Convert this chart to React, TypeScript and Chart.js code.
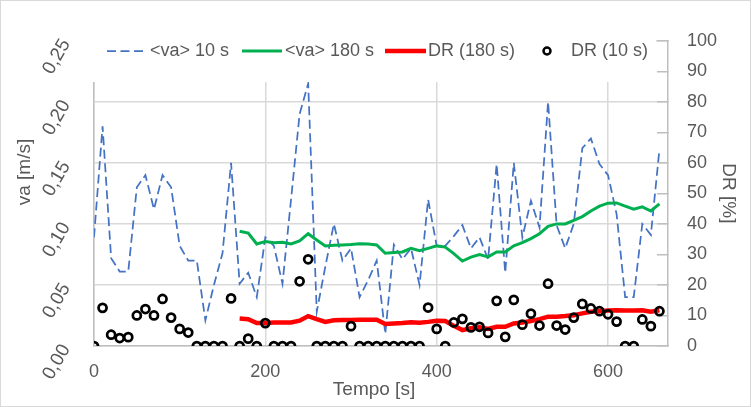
import React, { useEffect, useRef } from "react";
import { Chart, registerables } from "chart.js";

Chart.register(...registerables);

const timeS = [
  0, 10, 20, 30, 40, 50, 60, 70, 80, 90, 100, 110, 120, 130, 140, 150, 160, 170, 180, 190,
  200, 210, 220, 230, 240, 250, 260, 270, 280, 290, 300, 310, 320, 330, 340, 350, 360, 370, 380, 390,
  400, 410, 420, 430, 440, 450, 460, 470, 480, 490, 500, 510, 520, 530, 540, 550, 560, 570, 580, 590,
  600, 610, 620, 630, 640, 650, 660,
];

const va10s = [
  0.089, 0.180, 0.072, 0.061, 0.061, 0.130, 0.140, 0.112, 0.140, 0.130,
  0.082, 0.070, 0.070, 0.021, 0.050, 0.076, 0.150, 0.051, 0.060, 0.040,
  0.089, 0.082, 0.051, 0.120, 0.190, 0.215, 0.028, 0.065, 0.100, 0.070,
  0.080, 0.040, 0.054, 0.070, 0.010, 0.083, 0.071, 0.080, 0.050, 0.120,
  0.082, 0.082, 0.090, 0.099, 0.080, 0.089, 0.071, 0.149, 0.060, 0.150,
  0.089, 0.119, 0.097, 0.200, 0.099, 0.080, 0.100, 0.162, 0.170, 0.149,
  0.140, 0.108, 0.040, 0.040, 0.100, 0.091, 0.161,
];

const va180s = [
  null, null, null, null, null, null, null, null, null, null,
  null, null, null, null, null, null, null, 0.094, 0.0925, 0.0836,
  0.0855, 0.0846, 0.085, 0.0836, 0.086, 0.092, 0.0868, 0.082, 0.0825, 0.0828,
  0.0832, 0.0838, 0.0836, 0.0828, 0.076, 0.0765, 0.077, 0.080, 0.078, 0.080,
  0.082, 0.081, 0.0757, 0.0696, 0.0728, 0.0749, 0.073, 0.077, 0.077, 0.082,
  0.0846, 0.088, 0.092, 0.098, 0.100, 0.100, 0.103, 0.106, 0.1106, 0.1146,
  0.117, 0.1172, 0.1146, 0.112, 0.114, 0.1106, 0.1164,
];

const dr180s = [
  null, null, null, null, null, null, null, null, null, null,
  null, null, null, null, null, null, null, 9.0, 8.8, 7.5,
  7.5, 7.7, 7.7, 7.7, 8.3, 9.8, 8.8, 7.9, 8.4, 8.5,
  8.5, 8.6, 8.6, 8.6, 7.2, 7.4, 7.5, 7.8, 7.6, 7.9,
  8.3, 8.2, 6.6, 5.2, 5.8, 6.1, 5.6, 6.3, 6.3, 7.4,
  7.7, 8.2, 8.8, 9.6, 9.6, 9.8, 10.1, 10.7, 11.2, 11.4,
  11.6, 11.7, 11.6, 11.6, 11.7, 11.2, 11.7,
];

const dr10s = [
  0, 12.5, 3.7, 2.6, 2.9, 10.0, 12.1, 10.0, 15.4, 9.3,
  5.6, 4.4, 0, 0, 0, 0, 15.6, 0, 2.4, 0,
  7.5, 0, 0, 0, 21.2, 28.4, 0, 0, 0, 0,
  6.5, 0, 0, 0, 0, 0, 0, 0, 0, 12.6,
  5.6, 0, 7.7, 8.9, 6.1, 6.3, 4.3, 14.8, 3.0, 15.1,
  7.0, 10.6, 6.7, 20.4, 6.7, 5.4, 9.3, 13.8, 12.3, 11.4,
  10.4, 8.0, 0, 0, 8.7, 6.5, 11.4,
];

const xTickValues = [0, 200, 400, 600];
const seriesLabels = ["<va> 10 s", "<va> 180 s", "DR (180 s)", "DR (10 s)"];
const axisTitles = { x: "Tempo [s]", y: "va [m/s]", y1: "DR [%]" };

const FONT = "'Liberation Sans', Arial, sans-serif";
const TEXT = "#595959";
const DASH = [9, 4.5];

function toPoints(values: (number | null)[]) {
  const pts: { x: number; y: number }[] = [];
  values.forEach((v, i) => {
    if (v !== null && v !== undefined) pts.push({ x: timeS[i], y: v });
  });
  return pts;
}

const framePlugin = {
  id: "frame",
  beforeDraw(chart: any) {
    const { ctx, width, height } = chart;
    ctx.save();
    ctx.fillStyle = "#ffffff";
    ctx.fillRect(0, 0, width, height);
    ctx.strokeStyle = "#d9d9d9";
    ctx.lineWidth = 1;
    ctx.strokeRect(0.5, 0.5, width - 1, height - 1);
    ctx.restore();
  },
  afterDatasetsDraw(chart: any) {
    const { ctx } = chart;
    ctx.save();
    // legend box sits over the top of the plot area
    ctx.fillStyle = "#ffffff";
    ctx.fillRect(90, 22, 566, 60);
    const y = 51;
    ctx.font = `18px ${FONT}`;
    ctx.fillStyle = TEXT;
    ctx.textBaseline = "middle";
    ctx.textAlign = "left";
    // dashed blue
    ctx.strokeStyle = "#4472C4";
    ctx.lineWidth = 1.75;
    ctx.setLineDash(DASH);
    ctx.beginPath();
    ctx.moveTo(107, y);
    ctx.lineTo(147, y);
    ctx.stroke();
    ctx.setLineDash([]);
    ctx.fillText(seriesLabels[0], 150, y);
    // green
    ctx.strokeStyle = "#00B050";
    ctx.lineWidth = 3;
    ctx.beginPath();
    ctx.moveTo(242, y);
    ctx.lineTo(282, y);
    ctx.stroke();
    ctx.fillText(seriesLabels[1], 285, y);
    // red
    ctx.strokeStyle = "#FF0000";
    ctx.lineWidth = 4.5;
    ctx.beginPath();
    ctx.moveTo(385, y);
    ctx.lineTo(426, y);
    ctx.stroke();
    ctx.fillText(seriesLabels[2], 428, y);
    // circle
    ctx.strokeStyle = "#000000";
    ctx.lineWidth = 2.5;
    ctx.beginPath();
    ctx.arc(547, y, 3.5, 0, Math.PI * 2);
    ctx.stroke();
    ctx.fillText(seriesLabels[3], 571, y);
    ctx.restore();
  },
  afterDraw(chart: any) {
    const { ctx } = chart;
    ctx.save();
    ctx.font = `19px ${FONT}`;
    ctx.fillStyle = TEXT;
    ctx.textAlign = "center";
    ctx.textBaseline = "middle";
    ctx.fillText(axisTitles.x, 374, 390);
    ctx.translate(25, 172);
    ctx.rotate(-Math.PI / 2);
    ctx.fillText(axisTitles.y, 0, 0);
    ctx.restore();
  },
};

export default function App() {
  const canvasRef = useRef<HTMLCanvasElement | null>(null);

  useEffect(() => {
    if (!canvasRef.current) return;
    const chart = new Chart(canvasRef.current, {
      type: "line",
      data: {
        datasets: [
          {
            label: seriesLabels[0],
            data: toPoints(va10s),
            yAxisID: "y",
            borderColor: "#4472C4",
            borderWidth: 1.75,
            borderDash: DASH,
            pointRadius: 0,
            tension: 0,
            fill: false,
            order: 4,
          },
          {
            label: seriesLabels[1],
            data: toPoints(va180s),
            yAxisID: "y",
            borderColor: "#00B050",
            borderWidth: 3,
            pointRadius: 0,
            tension: 0,
            fill: false,
            order: 3,
          },
          {
            label: seriesLabels[2],
            data: toPoints(dr180s),
            yAxisID: "y1",
            borderColor: "#FF0000",
            borderWidth: 4.5,
            pointRadius: 0,
            tension: 0,
            fill: false,
            order: 2,
          },
          {
            label: seriesLabels[3],
            data: toPoints(dr10s),
            yAxisID: "y1",
            showLine: false,
            pointRadius: 4,
            pointBorderWidth: 2.75,
            pointBorderColor: "#000000",
            pointBackgroundColor: "rgba(0,0,0,0)",
            order: 1,
          },
        ],
      } as any,
      options: {
        animation: false,
        responsive: false,
        maintainAspectRatio: false,
        layout: { padding: { top: 31, left: 0, right: 0, bottom: 0 } },
        plugins: {
          legend: { display: false },
          tooltip: { enabled: false },
        },
        scales: {
          x: {
            type: "linear",
            min: 0,
            max: 670,
            afterBuildTicks: (scale: any) => {
              scale.ticks = xTickValues.map((v) => ({ value: v }));
            },
            afterFit: (scale: any) => {
              scale.height = 61;
            },
            grid: { color: "#d9d9d9", lineWidth: 1.5, drawTicks: false },
            border: { display: true, color: "#bfbfbf", width: 1.5 },
            ticks: {
              padding: 15,
              color: TEXT,
              font: { size: 18, family: FONT },
              maxRotation: 0,
              autoSkip: false,
            },
          },
          y: {
            type: "linear",
            position: "left",
            min: 0,
            max: 0.25,
            afterFit: (scale: any) => {
              scale.width = 94;
            },
            grid: { color: "#d9d9d9", lineWidth: 1.5, drawTicks: false },
            border: { display: true, color: "#bfbfbf", width: 1.5 },
            ticks: {
              stepSize: 0.05,
              padding: 28,
              minRotation: 60,
              maxRotation: 60,
              autoSkip: false,
              color: TEXT,
              font: { size: 19, family: FONT },
              callback: (v: any) => Number(v).toFixed(2).replace(".", ","),
            },
          },
          y1: {
            type: "linear",
            position: "right",
            min: 0,
            max: 100,
            afterFit: (scale: any) => {
              scale.width = 83;
            },
            grid: {
              drawOnChartArea: false,
              drawTicks: true,
              tickLength: -11,
              color: "#bfbfbf",
              lineWidth: 1.5,
            },
            border: { display: true, color: "#bfbfbf", width: 1.5 },
            ticks: {
              stepSize: 10,
              padding: 30,
              autoSkip: false,
              color: TEXT,
              font: { size: 18, family: FONT },
            },
            title: {
              display: true,
              text: axisTitles.y1,
              color: TEXT,
              font: { size: 19, family: FONT },
              padding: { top: 11, bottom: 0 },
            },
          },
        },
      } as any,
      plugins: [framePlugin],
    });
    return () => chart.destroy();
  }, []);

  return (
    <div style={{ position: "fixed", left: 0, top: 0, width: 751, height: 407 }}>
      <canvas ref={canvasRef} width={751} height={407} style={{ display: "block" }} />
    </div>
  );
}
